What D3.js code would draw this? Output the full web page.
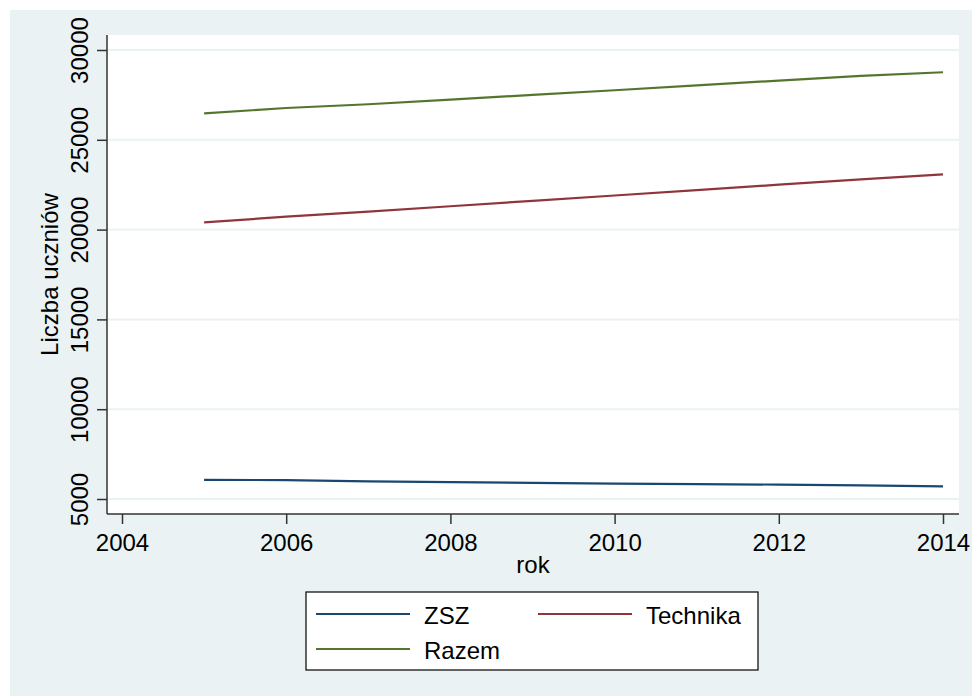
<!DOCTYPE html>
<html>
<head>
<meta charset="utf-8">
<script src="https://cdn.jsdelivr.net/npm/d3@7"></script>
<style>
  body { margin: 0; background: #fff; }
  text { font-family: Arial, "Liberation Sans", sans-serif; fill: #000; }
</style>
</head>
<body>
<div id="chart"></div>
<script>
var svgWidth = 972;
var svgHeight = 696;

// data
var years = [2005, 2006, 2007, 2008, 2009, 2010, 2011, 2012, 2013, 2014];
var zsz = [6070, 6050, 5980, 5940, 5900, 5860, 5830, 5800, 5760, 5700];
var technika = [20400, 20720, 21000, 21300, 21600, 21900, 22200, 22500, 22800, 23070];
var razem = [26470, 26770, 26980, 27240, 27500, 27760, 28030, 28300, 28560, 28760];
var xTicks = [2004, 2006, 2008, 2010, 2012, 2014];
var yTicks = [5000, 10000, 15000, 20000, 25000, 30000];

var seriesNames = ["ZSZ", "Technika", "Razem"];
var seriesColors = ["#1a476f", "#90353b", "#55752f"];

var plot = { left: 107, right: 959, top: 35, bottom: 514 };

var svg = d3.select("#chart")
  .append("svg")
  .attr("width", svgWidth)
  .attr("height", svgHeight);

// graph region
svg.append("rect")
  .attr("x", 10).attr("y", 10)
  .attr("width", svgWidth - 10).attr("height", svgHeight - 10)
  .attr("fill", "#eaf2f3");

// plot region
svg.append("rect")
  .attr("x", plot.left).attr("y", plot.top)
  .attr("width", plot.right - plot.left).attr("height", plot.bottom - plot.top)
  .attr("fill", "#fff");

var x = d3.scaleLinear()
  .domain([2004, 2014])
  .range([122, 943]);

var y = d3.scaleLinear()
  .domain([5000, 30000])
  .range([499, 50]);

// gridlines
svg.append("g")
  .selectAll("line")
  .data(yTicks)
  .enter()
  .append("line")
  .attr("x1", plot.left)
  .attr("x2", plot.right)
  .attr("y1", d => y(d))
  .attr("y2", d => y(d))
  .attr("stroke", "#eaf2f3")
  .attr("stroke-width", 2);

// y axis
var leftAxis = d3.axisLeft(y)
  .tickValues(yTicks)
  .tickSize(10)
  .tickPadding(0)
  .tickFormat(d3.format("d"));

var yAxis = svg.append("g")
  .attr("transform", `translate(${plot.left}, 0)`)
  .call(leftAxis);

yAxis.select(".domain")
  .attr("d", `M0,${plot.top}V${plot.bottom}`);

// tick labels run upward, centred on the tick
yAxis.selectAll(".tick text")
  .attr("transform", "rotate(-90)")
  .attr("x", 0)
  .attr("y", -19)
  .attr("dy", 0)
  .attr("text-anchor", "middle")
  .style("font-size", "24px");

// x axis
var bottomAxis = d3.axisBottom(x)
  .tickValues(xTicks)
  .tickSize(10)
  .tickPadding(0)
  .tickFormat(d3.format("d"));

var xAxis = svg.append("g")
  .attr("transform", `translate(0, ${plot.bottom})`)
  .call(bottomAxis);

xAxis.select(".domain")
  .attr("d", `M${plot.left},0H${plot.right}`);

xAxis.selectAll("text")
  .attr("y", 37)
  .attr("dy", 0)
  .style("font-size", "24px");

svg.selectAll(".domain, .tick line")
  .attr("stroke", "#333")
  .attr("stroke-width", 1.5);

// axis titles
svg.append("text")
  .attr("x", (plot.left + plot.right) / 2)
  .attr("y", 573)
  .attr("text-anchor", "middle")
  .style("font-size", "24px")
  .text("rok");

svg.append("text")
  .attr("transform", `translate(58, ${(plot.top + plot.bottom) / 2}) rotate(-90)`)
  .attr("text-anchor", "middle")
  .style("font-size", "24px")
  .text("Liczba uczniów");

// lines
var series = [zsz, technika, razem];

var line = d3.line()
  .x((d, i) => x(years[i]))
  .y(d => y(d));

svg.append("g")
  .selectAll("path")
  .data(series)
  .enter()
  .append("path")
  .attr("d", d => line(d))
  .attr("fill", "none")
  .attr("stroke", (d, i) => seriesColors[i])
  .attr("stroke-width", 2.2);

// legend
var legend = svg.append("g");

legend.append("rect")
  .attr("x", 306).attr("y", 592)
  .attr("width", 452).attr("height", 78)
  .attr("fill", "#fff")
  .attr("stroke", "#000")
  .attr("stroke-width", 1.2);

var legendPos = [
  { lx: 316, ty: 614 },
  { lx: 538, ty: 614 },
  { lx: 316, ty: 649 }
];

var items = legend.selectAll("g.item")
  .data(seriesNames)
  .enter()
  .append("g")
  .attr("class", "item");

items.append("line")
  .attr("x1", (d, i) => legendPos[i].lx)
  .attr("x2", (d, i) => legendPos[i].lx + 94)
  .attr("y1", (d, i) => legendPos[i].ty)
  .attr("y2", (d, i) => legendPos[i].ty)
  .attr("stroke", (d, i) => seriesColors[i])
  .attr("stroke-width", 2.2);

items.append("text")
  .attr("x", (d, i) => legendPos[i].lx + 108)
  .attr("y", (d, i) => legendPos[i].ty + 10)
  .style("font-size", "24px")
  .text(d => d);
</script>
</body>
</html>
